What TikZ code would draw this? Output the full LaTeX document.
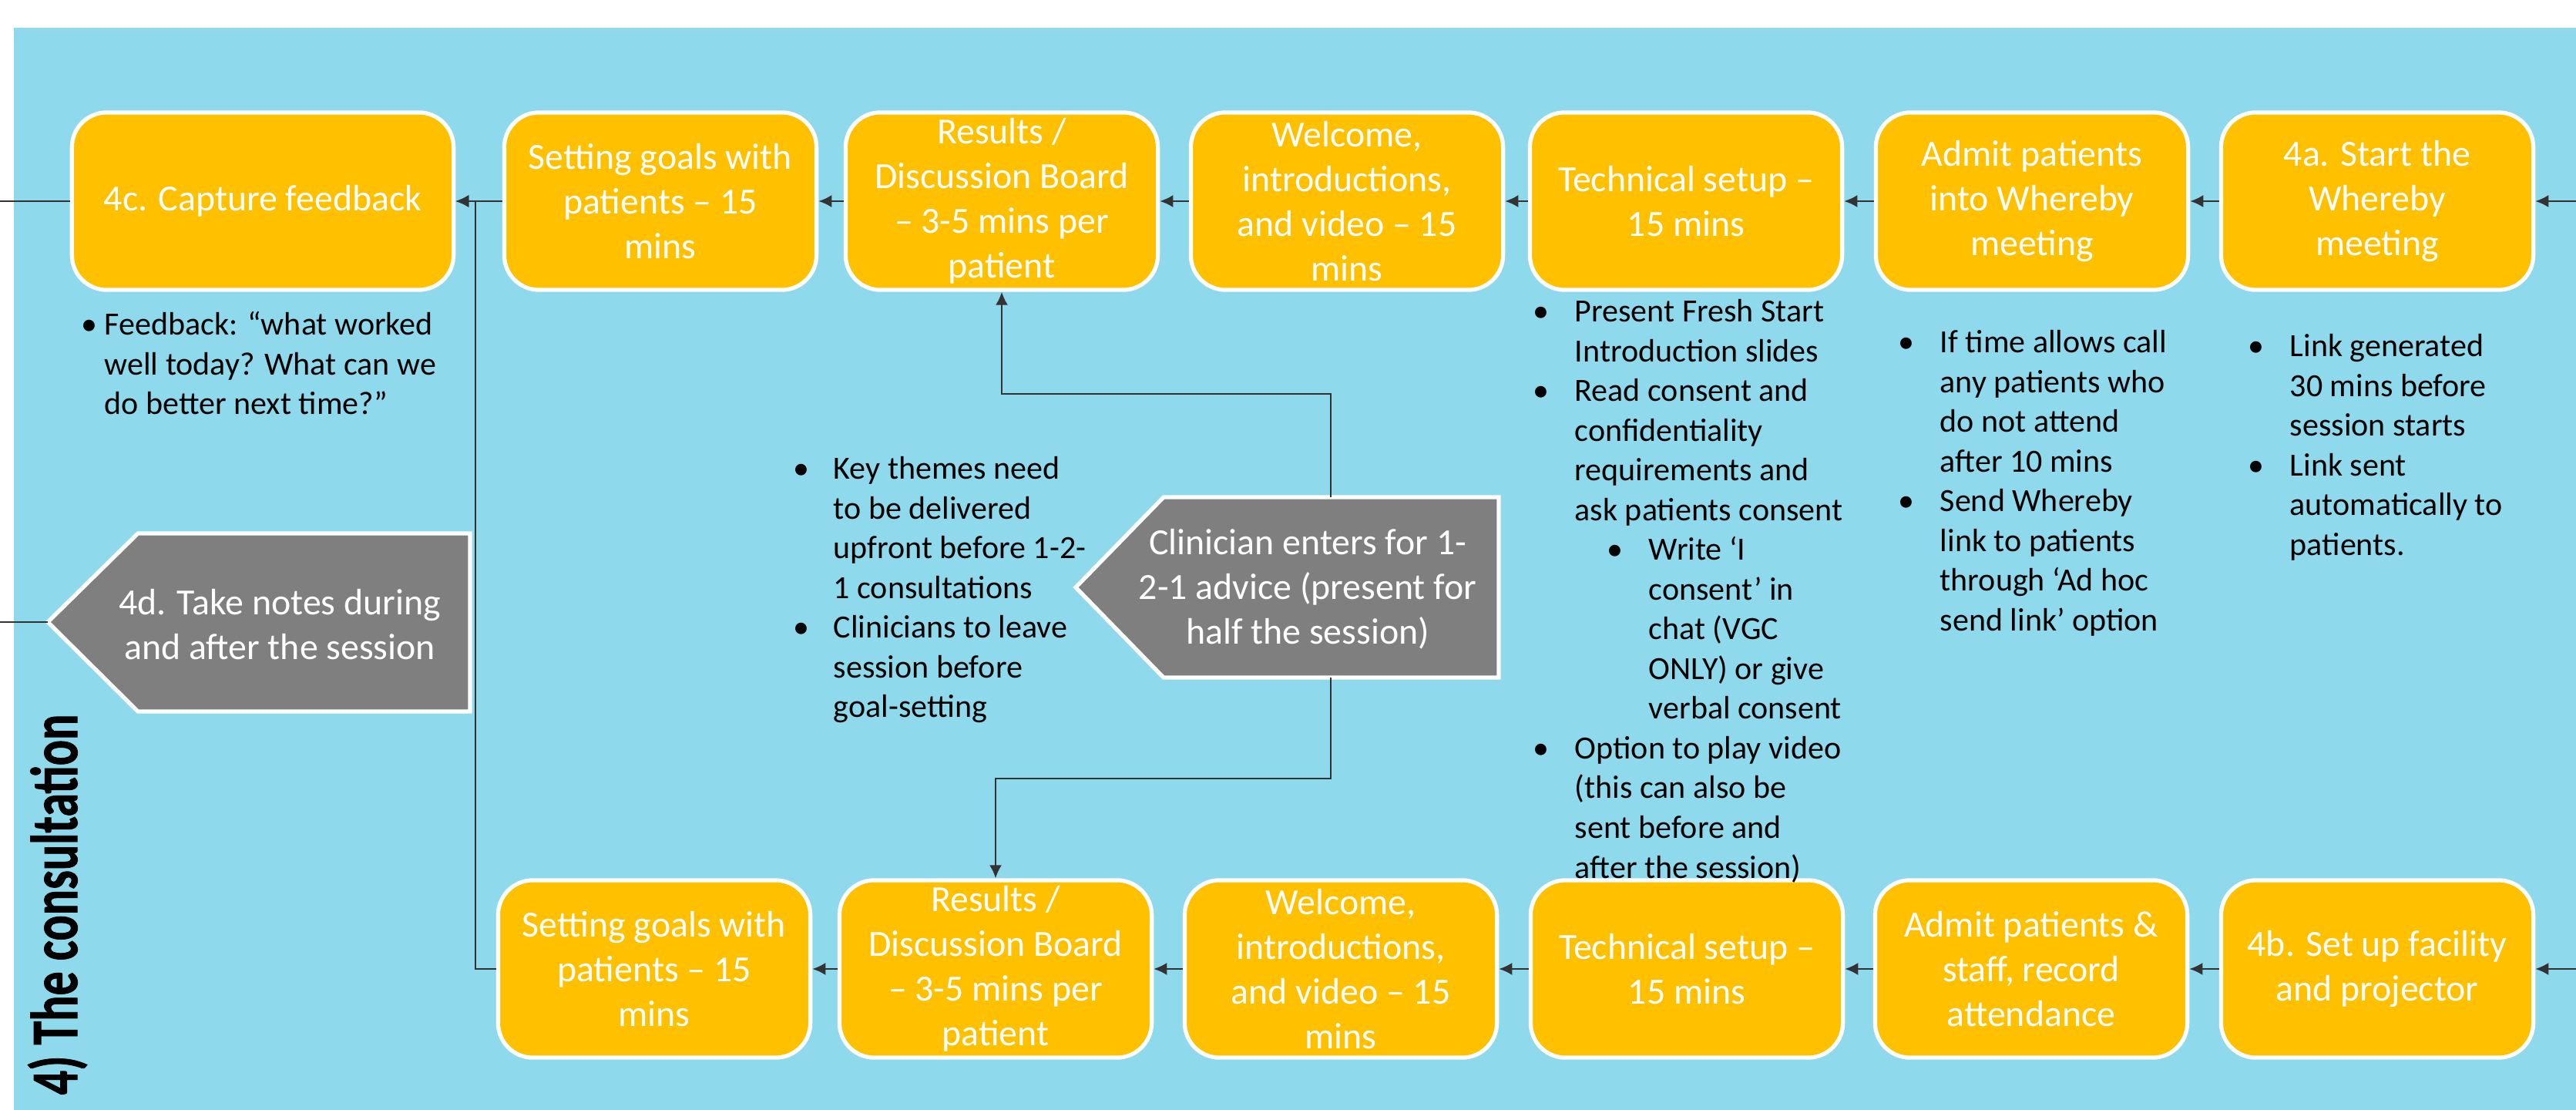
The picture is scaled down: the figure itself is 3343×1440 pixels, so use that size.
\documentclass[tikz,border=0pt]{standalone}
\usepackage{fontspec}
\usepackage{graphicx}
\setmainfont{Carlito}
\newfontfamily\titlefont[FakeBold=1.2]{Carlito}
\usetikzlibrary{arrows.meta}
\definecolor{sky}{RGB}{143,217,236}
\definecolor{gold}{RGB}{255,192,0}
\definecolor{slate}{RGB}{127,127,127}
% bullet set in a box of the given width, and a blank indent of the same kind
\newcommand\bl[1]{\makebox[#1][l]{\textbullet}}
\newcommand\gap[1]{\hspace*{#1}}

\begin{document}
\begin{tikzpicture}[x=0.01cm,y=-0.01cm,
  stage/.style={draw=white, line width=1.5pt, fill=gold, rounded corners=0.45cm,
    text=white, align=center, font=\fontsize{13.6}{16.5}\selectfont,
    minimum height=2.3cm, minimum width=4.05cm, inner sep=2pt},
  flag/.style={draw=white, line width=1.5pt, fill=slate},
  flagtext/.style={text=white, align=center, font=\fontsize{13.6}{16.5}\selectfont, inner sep=0pt},
  note/.style={anchor=north west, align=left, inner sep=0pt, font=\fontsize{11.95}{14.65}\selectfont},
  link/.style={draw=black!80, line width=0.6pt},
  arr/.style={link, -{Latex[length=0.17cm,width=0.16cm]}},
]
\useasboundingbox (0,0) rectangle (3343,1440);
\fill[white] (0,0) rectangle (3343,1440);
\fill[sky] (18,36) rectangle (3343,1440);

% section title
\node[rotate=90, anchor=base west, inner sep=0pt,
  font=\fontsize{24.5}{29}\selectfont\titlefont\bfseries] (title) at (100,1421)
  {\scalebox{0.72}[1]{4) The consultation}};

% remote session (top row)
\node[stage, minimum width=4.95cm] (fb) at (341,261) {4c. Capture feedback};
\node[stage] (g1) at (857,261) {Setting goals with\\patients – 15\\mins};
\node[stage] (r1) at (1300,261) {Results /\\Discussion Board\\– 3-5 mins per\\patient};
\node[stage] (w1) at (1748,261) {Welcome,\\introductions,\\and video – 15\\mins};
\node[stage] (t1) at (2188,261) {Technical setup –\\15 mins};
\node[stage] (a1) at (2637,261) {Admit patients\\into Whereby\\meeting};
\node[stage] (s1) at (3085,261) {4a. Start the\\Whereby\\meeting};

% face-to-face session (bottom row)
\node[stage] (g2) at (849,1257) {Setting goals with\\patients – 15\\mins};
\node[stage] (r2) at (1292,1257) {Results /\\Discussion Board\\– 3-5 mins per\\patient};
\node[stage] (w2) at (1740,1257) {Welcome,\\introductions,\\and video – 15\\mins};
\node[stage] (t2) at (2189,1257) {Technical setup –\\15 mins};
\node[stage] (a2) at (2636,1257) {Admit patients \&\\staff, record\\attendance};
\node[stage] (b2) at (3085,1257) {4b. Set up facility\\and projector};

% grey pointer shapes
\draw[flag] (62,807) -- (179,692) -- (610,692) -- (610,923) -- (179,923) -- cycle;
\node[flagtext] (notes) at (363,810) {4d. Take notes during\\and after the session};
\coordinate (notesTip) at (62,807);

\draw[flag] (1396,762) -- (1510,645) -- (1945,645) -- (1945,879) -- (1510,879) -- cycle;
\node[flagtext] (clin) at (1697,764) {Clinician enters for 1-\\2-1 advice (present for\\half the session)};
\coordinate (clinN) at (1727,645);
\coordinate (clinS) at (1727,879);
\coordinate (jA) at (1727,511);
\coordinate (jB) at (1727,1010);

% notes under the steps
\node[note] (fbNotes) at (105,398) {\strut\bl{0.30cm}Feedback: “what worked\\
\gap{0.30cm}well today? What can we\\
\gap{0.30cm}do better next time?”};

\node[note] (clinNotes) at (1029,585) {\strut\bl{0.52cm}Key themes need\\
\gap{0.52cm}to be delivered\\
\gap{0.52cm}upfront before 1-2-\\
\gap{0.52cm}1 consultations\\
\bl{0.52cm}Clinicians to leave\\
\gap{0.52cm}session before\\
\gap{0.52cm}goal-setting};

\node[note] (techNotes) at (1989,381) {\strut\bl{0.54cm}Present Fresh Start\\
\gap{0.54cm}Introduction slides\\
\bl{0.54cm}Read consent and\\
\gap{0.54cm}confidentiality\\
\gap{0.54cm}requirements and\\
\gap{0.54cm}ask patients consent\\
\gap{0.96cm}\bl{0.54cm}Write ‘I\\
\gap{1.50cm}consent’ in\\
\gap{1.50cm}chat (VGC\\
\gap{1.50cm}ONLY) or give\\
\gap{1.50cm}verbal consent\\
\bl{0.54cm}Option to play video\\
\gap{0.54cm}(this can also be\\
\gap{0.54cm}sent before and\\
\gap{0.54cm}after the session)};

\node[note] (admitNotes) at (2463,421) {\strut\bl{0.54cm}If time allows call\\
\gap{0.54cm}any patients who\\
\gap{0.54cm}do not attend\\
\gap{0.54cm}after 10 mins\\
\bl{0.54cm}Send Whereby\\
\gap{0.54cm}link to patients\\
\gap{0.54cm}through ‘Ad hoc\\
\gap{0.54cm}send link’ option};

\node[note] (startNotes) at (2917,426) {\strut\bl{0.54cm}Link generated\\
\gap{0.54cm}30 mins before\\
\gap{0.54cm}session starts\\
\bl{0.54cm}Link sent\\
\gap{0.54cm}automatically to\\
\gap{0.54cm}patients.};

% flow, right to left
\coordinate (inTop) at (3343,261);
\coordinate (inBot) at (3343,1257);
\coordinate (outTop) at (0,261);
\coordinate (outNotes) at (0,807);

\draw[arr] (inTop) -- (s1);
\draw[arr] (s1) -- (a1);
\draw[arr] (a1) -- (t1);
\draw[arr] (t1) -- (w1);
\draw[arr] (w1) -- (r1);
\draw[arr] (r1) -- (g1);
\draw[arr] (g1) -- (fb);
\draw[link] (fb) -- (outTop);

\draw[arr] (inBot) -- (b2);
\draw[arr] (b2) -- (a2);
\draw[arr] (a2) -- (t2);
\draw[arr] (t2) -- (w2);
\draw[arr] (w2) -- (r2);
\draw[arr] (r2) -- (g2);
\draw[arr] (g2.west) -- ++(-27,0) |- (fb.east);

\draw[link] (notesTip) -- (outNotes);

\draw[arr] (clinN) -- (jA) -| (r1.south);
\draw[arr] (clinS) -- (jB) -| (r2.north);
\end{tikzpicture}
\end{document}
